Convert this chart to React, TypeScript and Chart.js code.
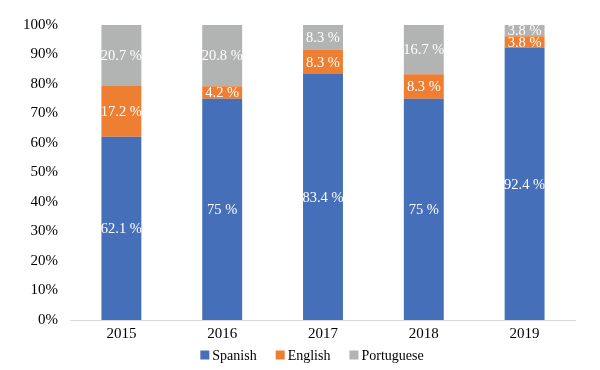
import React, { useEffect, useRef } from "react";
import { Chart, registerables } from "chart.js";

Chart.register(...registerables);

const years = ["2015", "2016", "2017", "2018", "2019"];
const spanish = [62.1, 75, 83.4, 75, 92.4];
const english = [17.2, 4.2, 8.3, 8.3, 3.8];
const portuguese = [20.7, 20.8, 8.3, 16.7, 3.8];
const seriesNames = ["Spanish", "English", "Portuguese"];
const seriesColors = ["#456FB8", "#EE7F32", "#B2B3B3"];

const FONT = '"Liberation Serif", "Times New Roman", serif';

const labelPlugin = {
  id: "segLabels",
  afterDatasetsDraw(chart: any) {
    const ctx = chart.ctx;
    ctx.save();
    ctx.font = `14.5px ${FONT}`;
    ctx.fillStyle = "#ffffff";
    ctx.textAlign = "center";
    ctx.textBaseline = "middle";
    chart.data.datasets.forEach((ds: any, i: number) => {
      const meta = chart.getDatasetMeta(i);
      if (meta.hidden) return;
      meta.data.forEach((el: any, j: number) => {
        const v = ds.data[j];
        const y = (el.y + el.base) / 2;
        ctx.fillText(`${v} %`, el.x, y + 1);
      });
    });
    ctx.restore();
  },
};

const legendPlugin = {
  id: "customLegend",
  afterDraw(chart: any) {
    const ctx = chart.ctx;
    ctx.save();
    ctx.font = `14px ${FONT}`;
    ctx.textBaseline = "middle";
    ctx.textAlign = "left";
    const box = 9;
    const gapText = 3;
    const gapItem = 19;
    const items = chart.data.datasets.map((ds: any) => ({
      label: ds.label,
      color: ds.backgroundColor,
      w: ctx.measureText(ds.label).width,
    }));
    const total = items.reduce((s: number, it: any) => s + box + gapText + it.w, 0) + gapItem * (items.length - 1);
    const cx = (chart.chartArea.left + chart.chartArea.right) / 2 - 11;
    let x = cx - total / 2;
    const y = chart.chartArea.bottom + 35;
    items.forEach((it: any) => {
      ctx.fillStyle = it.color;
      ctx.fillRect(x, y - box / 2, box, box);
      x += box + gapText;
      ctx.fillStyle = "#000";
      ctx.fillText(it.label, x, y + 1);
      x += it.w + gapItem;
    });
    ctx.restore();
  },
};

export default function App() {
  const ref = useRef<HTMLCanvasElement | null>(null);
  useEffect(() => {
    if (!ref.current) return;
    const chart = new Chart(ref.current, {
      type: "bar",
      data: {
        labels: years,
        datasets: [
          { label: seriesNames[0], data: spanish, backgroundColor: seriesColors[0] },
          { label: seriesNames[1], data: english, backgroundColor: seriesColors[1] },
          { label: seriesNames[2], data: portuguese, backgroundColor: seriesColors[2] },
        ],
      },
      options: {
        responsive: false,
        animation: false,
        maintainAspectRatio: false,
        datasets: { bar: { barPercentage: 0.396, categoryPercentage: 1 } },
        layout: { padding: { left: 10, right: 25, top: 25, bottom: 22 } },
        scales: {
          x: {
            stacked: true,
            grid: { display: false, drawTicks: false },
            border: { display: true, color: "#d9d9d9", width: 1 },
            ticks: { color: "#000", font: { family: FONT, size: 15 }, padding: 5 },
          },
          y: {
            stacked: true,
            min: 0,
            max: 100,
            grid: { display: false, drawTicks: false },
            border: { display: false },
            ticks: {
              stepSize: 10,
              color: "#000",
              padding: 13,
              font: { family: FONT, size: 15 },
              callback: (v: any) => `${v}%`,
            },
          },
        },
        plugins: {
          tooltip: { enabled: false },
          legend: { display: false },
        },
      },
      plugins: [labelPlugin, legendPlugin],
    });
    return () => chart.destroy();
  }, []);
  return (
    <div style={{ position: "absolute", left: 0, top: 0, width: 600, height: 370 }}>
      <canvas ref={ref} width={600} height={370} style={{ width: 600, height: 370 }} />
    </div>
  );
}
